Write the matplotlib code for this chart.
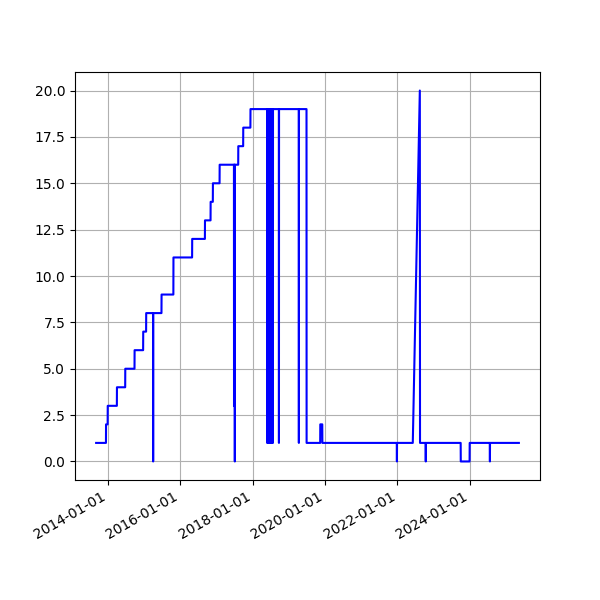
import pandas as pd
import matplotlib
matplotlib.use("Agg")
from matplotlib import pyplot as plt
import matplotlib.dates as mdates

# change points: (date, count)
dates = [
    "2013-09-06", "2013-12-14", "2013-12-15", "2013-12-31", "2014-01-01",
    "2014-04-03", "2014-04-04", "2014-06-26", "2014-06-27",
    "2014-09-28", "2014-09-29", "2014-12-24", "2014-12-25",
    "2015-01-23", "2015-01-24", "2015-04-03", "2015-04-04", "2015-04-05",
    "2015-06-27", "2015-06-28", "2015-10-25", "2015-10-26",
    "2016-05-01", "2016-05-02", "2016-09-07", "2016-09-08",
    "2016-11-03", "2016-11-04", "2016-11-26", "2016-11-27",
    "2017-02-02", "2017-02-03", "2017-06-27", "2017-06-28", "2017-06-29",
    "2017-07-05", "2017-07-06", "2017-07-07",
    "2017-08-09", "2017-08-10", "2017-09-28", "2017-09-29",
    "2017-12-10", "2017-12-11",
    "2018-05-27", "2018-05-28", "2018-06-02", "2018-06-07", "2018-06-12",
    "2018-06-17", "2018-06-22", "2018-06-27", "2018-07-02", "2018-07-07",
    "2018-07-12", "2018-07-17", "2018-07-21", "2018-07-25", "2018-07-26",
    "2018-09-23", "2018-09-24", "2018-09-25",
    "2019-04-12", "2019-04-13", "2019-04-14",
    "2019-06-29", "2019-06-30",
    "2019-11-14", "2019-11-15", "2019-12-05", "2019-12-06",
    "2021-12-26", "2021-12-27", "2021-12-28",
    "2022-06-05", "2022-08-15", "2022-08-17",
    "2022-10-13", "2022-10-14", "2022-10-15",
    "2023-10-01", "2023-10-02", "2023-12-30", "2023-12-31",
    "2024-07-21", "2024-07-22", "2024-07-23",
    "2025-05-10",
]
counts = [
    1, 1, 2, 2, 3,
    3, 4, 4, 5,
    5, 6, 6, 7,
    7, 8, 8, 0, 8,
    8, 9, 9, 11,
    11, 12, 12, 13,
    13, 14, 14, 15,
    15, 16, 16, 3, 16,
    16, 0, 16,
    16, 17, 17, 18,
    18, 19,
    19, 1, 19, 1, 19,
    1, 19, 1, 19, 1,
    19, 1, 19, 1, 19,
    19, 1, 19,
    19, 1, 19,
    19, 1,
    1, 2, 2, 1,
    1, 0, 1,
    1, 20, 1,
    1, 0, 1,
    1, 0, 0, 1,
    1, 0, 1,
    1,
]

x = pd.to_datetime(dates)

fig, ax = plt.subplots(figsize=(6, 6), dpi=100)
ax.plot(x, counts, color="blue")
ax.grid(True)
ax.xaxis.set_major_formatter(mdates.DateFormatter("%Y-%m-%d"))
fig.autofmt_xdate()
fig.savefig("out.png")
